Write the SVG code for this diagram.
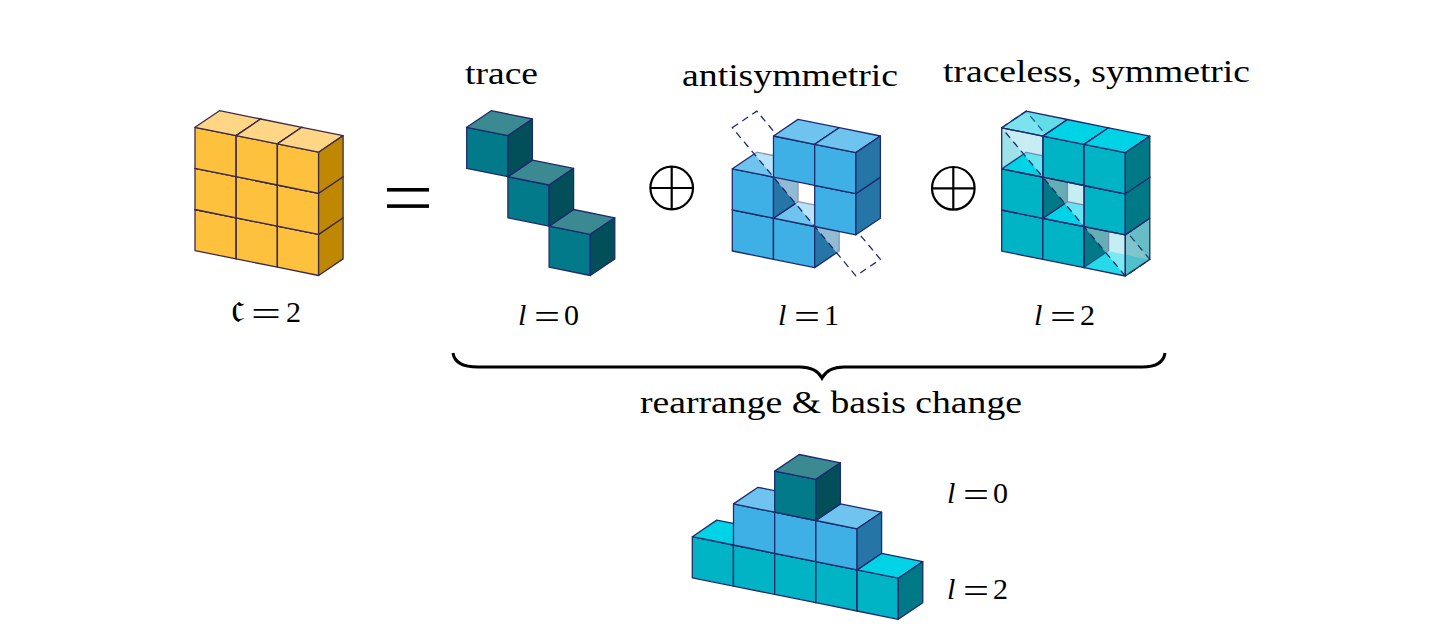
<svg xmlns="http://www.w3.org/2000/svg" xmlns:xlink="http://www.w3.org/1999/xlink" width="1456" height="637" viewBox="0 0 1456 637">
<style>
.ln{stroke:#1e2b6e;stroke-width:1.3;stroke-linejoin:round}
.lnY{stroke:#3c2a4a;stroke-width:1.3;stroke-linejoin:round}
.yf{fill:#fec13d}.yt{fill:#fed685}.yr{fill:#c08800}
.tf{fill:#027a8a}.tt{fill:#3c8a91}.tr{fill:#024f5a}
.bf{fill:#3eb0e6}.bt{fill:#6fc4ef}.br{fill:#2576a7}
.cf{fill:#00b4c5}.ct{fill:#00d3e6}.cr{fill:#007986}
.plane{fill:#ffffff;fill-opacity:0.5;stroke:none}
.plane2{fill:#ffffff;fill-opacity:0.4;stroke:none}
.dash{fill:none;stroke:#1e2b6e;stroke-width:1.3;stroke-dasharray:7 5}
.txt{font-family:"Liberation Serif","DejaVu Serif",serif;font-size:31px;fill:#000}
.math{font-family:"Liberation Serif","DejaVu Serif",serif;font-size:30px;fill:#000}
.eq{font-size:36px;font-style:normal}
</style>
<defs>
<g id="cY" class="lnY"><polygon class="yf" points="0,0 41.2,8.3 41.2,49.4 0,41.1"/><polygon class="yt" points="0,0 24.5,-16.6 65.7,-8.3 41.2,8.3"/><polygon class="yr" points="41.2,8.3 65.7,-8.3 65.7,32.8 41.2,49.4"/></g>
<g id="cT" class="ln"><polygon class="tf" points="0,0 41.2,8.3 41.2,49.4 0,41.1"/><polygon class="tt" points="0,0 24.5,-16.6 65.7,-8.3 41.2,8.3"/><polygon class="tr" points="41.2,8.3 65.7,-8.3 65.7,32.8 41.2,49.4"/></g>
<g id="cB" class="ln"><polygon class="bf" points="0,0 41.2,8.3 41.2,49.4 0,41.1"/><polygon class="bt" points="0,0 24.5,-16.6 65.7,-8.3 41.2,8.3"/><polygon class="br" points="41.2,8.3 65.7,-8.3 65.7,32.8 41.2,49.4"/></g>
<g id="cC" class="ln"><polygon class="cf" points="0,0 41.2,8.3 41.2,49.4 0,41.1"/><polygon class="ct" points="0,0 24.5,-16.6 65.7,-8.3 41.2,8.3"/><polygon class="cr" points="41.2,8.3 65.7,-8.3 65.7,32.8 41.2,49.4"/></g>
<polygon id="gBack" points="0,0 41.2,8.3 41.2,49.4 0,41.1" fill="#00b4c5" fill-opacity="0.38"/>
<polygon id="gLeft" points="0,0 24.5,-16.6 24.5,24.5 0,41.1" fill="#00b4c5" fill-opacity="0.38"/>
<polygon id="gFloor" points="0,0 24.5,-16.6 65.7,-8.3 41.2,8.3" fill="#00d3e6" fill-opacity="0.85"/>
<polygon id="gTop" points="0,0 24.5,-16.6 65.7,-8.3 41.2,8.3" fill="#00d3e6" fill-opacity="0.38" stroke="#1e2b6e" stroke-width="1.3" stroke-linejoin="round"/>
<polygon id="gRight" points="41.2,8.3 65.7,-8.3 65.7,32.8 41.2,49.4" fill="#007986" fill-opacity="0.35" stroke="#1e2b6e" stroke-width="1.3" stroke-linejoin="round"/>
<polygon id="gFront" points="0,0 41.2,8.3 41.2,49.4 0,41.1" fill="none" stroke="#1e2b6e" stroke-width="1.3" stroke-linejoin="round"/>
</defs>

<g id="node-c2">
<use href="#cY" x="195" y="209.5"/><use href="#cY" x="236.2" y="217.8"/><use href="#cY" x="277.4" y="226.1"/>
<use href="#cY" x="195" y="168.4"/><use href="#cY" x="236.2" y="176.7"/><use href="#cY" x="277.4" y="185"/>
<use href="#cY" x="195" y="127.3"/><use href="#cY" x="236.2" y="135.6"/><use href="#cY" x="277.4" y="143.9"/>
<text class="math" y="322"><tspan x="231" font-size="44">𝔠</tspan><tspan class="eq" x="251" y="326" textLength="30" lengthAdjust="spacingAndGlyphs">=</tspan><tspan x="286" y="322">2</tspan></text>
</g>

<g id="equals"><rect x="387" y="188" width="42" height="3.6" fill="#000"/><rect x="387" y="204.3" width="42" height="3.6" fill="#000"/></g>

<g id="node-trace">
<text class="txt" x="465" y="84" textLength="73" lengthAdjust="spacingAndGlyphs">trace</text>
<use href="#cT" x="549.1" y="226.1"/><use href="#cT" x="507.9" y="176.7"/><use href="#cT" x="466.7" y="127.3"/>
<text class="math" y="325"><tspan x="518" font-style="italic">l</tspan><tspan class="eq" x="534" y="329" textLength="26" lengthAdjust="spacingAndGlyphs">=</tspan><tspan x="564" y="325">0</tspan></text>
</g>

<g id="oplus1" fill="none" stroke="#000" stroke-width="2.2"><circle cx="671.7" cy="188" r="21.3"/><line x1="650.4" y1="188" x2="693" y2="188"/><line x1="671.7" y1="166.7" x2="671.7" y2="209.3"/></g>

<g id="node-antisym">
<text class="txt" x="682" y="86" textLength="216" lengthAdjust="spacingAndGlyphs">antisymmetric</text>
<use href="#cB" x="732.3" y="209.9"/><use href="#cB" x="773.5" y="218.2"/><use href="#cB" x="732.3" y="168.8"/>
<polygon class="plane" points="732.3,127.7 756.8,111.1 880.4,259.3 855.9,275.9"/>
<polygon class="dash" points="732.3,127.7 756.8,111.1 880.4,259.3 855.9,275.9"/>
<use href="#cB" x="814.7" y="185.4"/><use href="#cB" x="773.5" y="136"/><use href="#cB" x="814.7" y="144.3"/>
<text class="math" y="325"><tspan x="778" font-style="italic">l</tspan><tspan class="eq" x="794" y="329" textLength="26" lengthAdjust="spacingAndGlyphs">=</tspan><tspan x="824" y="325">1</tspan></text>
</g>

<g id="oplus2" fill="none" stroke="#000" stroke-width="2.2"><circle cx="953.3" cy="188.3" r="21.3"/><line x1="932" y1="188.3" x2="974.6" y2="188.3"/><line x1="953.3" y1="167" x2="953.3" y2="209.6"/></g>

<g id="node-symtraceless">
<text class="txt" x="943" y="82" textLength="307" lengthAdjust="spacingAndGlyphs">traceless, symmetric</text>
<use href="#cC" x="1001.7" y="210"/><use href="#cC" x="1042.9" y="218.3"/><use href="#cC" x="1001.7" y="168.9"/>
<use href="#gLeft" x="1001.7" y="127.8"/>
<use href="#gBack" x="1026.2" y="111.2"/><use href="#gBack" x="1067.4" y="160.6"/><use href="#gBack" x="1108.6" y="210"/>
<use href="#gFloor" x="1084.1" y="267.7"/>
<polygon class="plane2" points="1001.7,127.8 1026.2,111.2 1149.8,259.4 1125.3,276"/>
<polygon class="dash" points="1001.7,127.8 1026.2,111.2 1149.8,259.4 1125.3,276"/>
<use href="#cC" x="1084.1" y="185.5"/><use href="#cC" x="1042.9" y="136.1"/><use href="#cC" x="1084.1" y="144.4"/>
<use href="#gTop" x="1001.7" y="127.8"/><use href="#gRight" x="1084.1" y="226.6"/>
<use href="#gFront" x="1001.7" y="127.8"/><use href="#gFront" x="1042.9" y="177.2"/><use href="#gFront" x="1084.1" y="226.6"/>
<text class="math" y="325"><tspan x="1034" font-style="italic">l</tspan><tspan class="eq" x="1050" y="329" textLength="26" lengthAdjust="spacingAndGlyphs">=</tspan><tspan x="1080" y="325">2</tspan></text>
</g>

<g id="connectors">
<path d="M453,353 Q455,367 478,367 L800,367 Q816,367 822,378 Q828,367 844,367 L1142,367 Q1163,367 1165,353" fill="none" stroke="#000" stroke-width="3"/>
</g>
<text class="txt" x="640" y="413" textLength="382" lengthAdjust="spacingAndGlyphs">rearrange &amp; basis change</text>

<g id="node-rearranged">
<use href="#cC" x="692.3" y="536.7"/><use href="#cC" x="733.5" y="545"/><use href="#cC" x="774.7" y="553.3"/><use href="#cC" x="815.9" y="561.6"/><use href="#cC" x="857.1" y="569.9"/>
<use href="#cB" x="733.5" y="503.9"/><use href="#cB" x="774.7" y="512.2"/><use href="#cB" x="815.9" y="520.5"/>
<use href="#cT" x="774.7" y="471.1"/>
<text class="math" y="503"><tspan x="947" font-style="italic">l</tspan><tspan class="eq" x="963" y="507" textLength="26" lengthAdjust="spacingAndGlyphs">=</tspan><tspan x="993" y="503">0</tspan></text>
<text class="math" y="599"><tspan x="947" font-style="italic">l</tspan><tspan class="eq" x="963" y="603" textLength="26" lengthAdjust="spacingAndGlyphs">=</tspan><tspan x="993" y="599">2</tspan></text>
</g>
</svg>
